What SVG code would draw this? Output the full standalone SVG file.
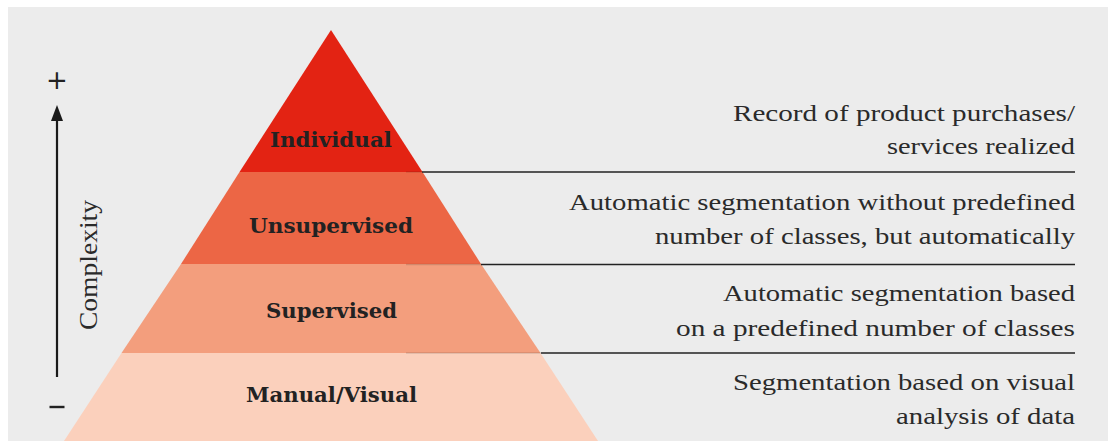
<svg xmlns="http://www.w3.org/2000/svg" width="1108" height="441" viewBox="0 0 1108 441">
<style>
.lbl{font-family:'DejaVu Serif',serif;font-weight:bold;font-size:20px;fill:#222;text-anchor:middle}
.desc{font-family:'Liberation Serif',serif;font-size:23.5px;fill:#2a2a2a;text-anchor:end}
.sep{stroke:#222;stroke-width:1.3}
.faint{stroke:#000;stroke-opacity:0.13;stroke-width:1.3}
</style>
<rect x="0" y="0" width="1108" height="441" fill="#ffffff"/>
<rect x="8" y="7" width="1100" height="434" fill="#ececec"/>
<g id="level-manual">
<polygon points="121.5,353 540.5,353 598,441 64,441" fill="#fbd0bc"/>
<text class="lbl" x="331.5" y="402" textLength="171" lengthAdjust="spacingAndGlyphs">Manual/Visual</text>
</g>
<g id="level-supervised">
<polygon points="181,264 481,264 540.5,353 121.5,353" fill="#f39e7d"/>
<text class="lbl" x="331.5" y="318" textLength="131" lengthAdjust="spacingAndGlyphs">Supervised</text>
</g>
<g id="level-unsupervised">
<polygon points="239.5,172 422.5,172 481,264 181,264" fill="#ec6645"/>
<text class="lbl" x="331" y="233" textLength="164" lengthAdjust="spacingAndGlyphs">Unsupervised</text>
</g>
<g id="level-individual">
<polygon points="331,30 422.5,172 239.5,172" fill="#e32313"/>
<text class="lbl" x="331" y="147" textLength="122" lengthAdjust="spacingAndGlyphs">Individual</text>
</g>
<g id="connectors">
<line class="sep" x1="422" y1="172" x2="1075" y2="172"/>
<line class="sep" x1="481" y1="264.5" x2="1075" y2="264.5"/>
<line class="sep" x1="541" y1="353" x2="1075" y2="353"/>
<line class="faint" x1="406" y1="172" x2="422" y2="172"/>
<line class="faint" x1="406" y1="264.5" x2="481" y2="264.5"/>
<line class="faint" x1="406" y1="353" x2="541" y2="353"/>
<line x1="57" y1="377" x2="57" y2="115" stroke="#1a1a1a" stroke-width="2.2"/>
<polygon points="57,105 63,121 51,121" fill="#1a1a1a"/>
</g>
<g id="axis-labels">
<text x="57" y="89" font-family="DejaVu Sans, sans-serif" font-size="26" fill="#222" text-anchor="middle">+</text>
<line x1="49.5" y1="407" x2="64.5" y2="407" stroke="#222" stroke-width="2.4"/>
<text transform="translate(97,330) rotate(-90)" font-family="Liberation Serif, serif" font-size="25" fill="#2a2a2a" textLength="130" lengthAdjust="spacingAndGlyphs">Complexity</text>
</g>
<g id="desc-individual">
<text class="desc" x="1075" y="121" textLength="342" lengthAdjust="spacingAndGlyphs">Record of product purchases/</text>
<text class="desc" x="1075" y="154" textLength="188" lengthAdjust="spacingAndGlyphs">services realized</text>
</g>
<g id="desc-unsupervised">
<text class="desc" x="1075" y="210" textLength="506" lengthAdjust="spacingAndGlyphs">Automatic segmentation without predefined</text>
<text class="desc" x="1075" y="244" textLength="420" lengthAdjust="spacingAndGlyphs">number of classes, but automatically</text>
</g>
<g id="desc-supervised">
<text class="desc" x="1075" y="301" textLength="352" lengthAdjust="spacingAndGlyphs">Automatic segmentation based</text>
<text class="desc" x="1075" y="336" textLength="399" lengthAdjust="spacingAndGlyphs">on a predefined number of classes</text>
</g>
<g id="desc-manual">
<text class="desc" x="1075" y="390" textLength="342" lengthAdjust="spacingAndGlyphs">Segmentation based on visual</text>
<text class="desc" x="1075" y="424" textLength="179" lengthAdjust="spacingAndGlyphs">analysis of data</text>
</g>
</svg>
